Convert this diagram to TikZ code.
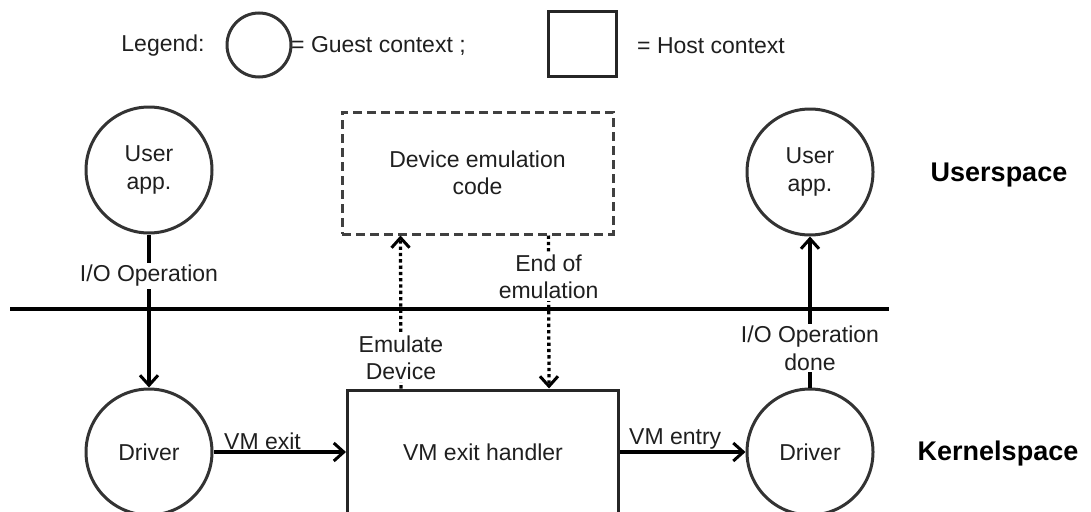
\documentclass[tikz,border=0pt]{standalone}
\usepackage{fontspec}
\setmainfont{Liberation Sans}
\usetikzlibrary{arrows.meta}
\begin{document}
\begin{tikzpicture}[x=1pt,y=-1pt,
  every node/.style={font=\fontsize{23}{27.5}\selectfont, text=black!88, align=center},
  guest/.style={circle, draw=black!80, line width=3pt, minimum size=126pt, inner sep=0pt},
  host/.style={rectangle, draw=black!85, line width=3pt, inner sep=0pt},
  hostcode/.style={host, draw=black!75, dash pattern=on 9pt off 5pt},
  tip/.style={-{Straight Barb[length=10pt,width=18pt,line width=3pt]}},
  flow/.style={line width=3.3pt, tip},
  emu/.style={line width=3.3pt, dash pattern=on 3.3pt off 3pt, tip},
  lbl/.style={fill=white, inner sep=2pt},
  edgelbl/.style={above, inner sep=1pt},
  title/.style={font=\fontsize{27}{32}\selectfont\bfseries, text=black}
]
\useasboundingbox (0,0) rectangle (1091,511);
\clip (0,0) rectangle (1091,511);

% legend
\node (legend) at (163,46) {Legend:};
\node[guest, minimum size=64pt] (lcirc) at (259,45) {};
\node[anchor=west, inner sep=0pt] (lguest) at (291,46) {= Guest context ;};
\node[host, minimum width=68pt, minimum height=64pt] (lsq) at (582,44) {};
\node[anchor=west, inner sep=0pt] (lhost) at (637,46) {= Host context};

% user / kernel separator
\coordinate (sepL) at (10,309);
\coordinate (sepR) at (889,309);
\draw[line width=3.3pt] (sepL) -- (sepR);

% nodes
\node[guest] (app1) at (149,170) {User\\app.};
\node[guest] (drv1) at (149,452) {Driver};
\node[guest] (app2) at (810,172) {User\\app.};
\node[guest] (drv2) at (810,452) {Driver};
\node[host, minimum width=271pt, minimum height=124pt] (vmx) at (483,452) {VM exit handler};
\node[hostcode, minimum width=271pt, minimum height=122pt] (dev) at (477.5,173) {Device emulation\\code};

\node[title] (user) at (999,175) {Userspace};
\node[title] (kern) at (998,454) {Kernelspace};

% connectors
\draw[flow] (app1) -- node[lbl, pos=0.27] {I/O Operation} (drv1);
\draw[flow] (drv1) -- node[edgelbl, pos=0.37] {VM exit} (vmx);
\draw[flow] (vmx) -- node[edgelbl, pos=0.44] {VM entry} (drv2);
\draw[flow] (drv2) -- node[lbl, pos=0.26] {I/O Operation\\done} (app2);
\draw[emu] ([xshift=55pt]vmx.north west) -- node[lbl, pos=0.2] {Emulate\\Device} ([xshift=60pt]dev.south west);
\draw[emu] ([xshift=208pt]dev.south west) -- node[lbl, pos=0.27] {End of\\emulation} ([xshift=203pt]vmx.north west);
\end{tikzpicture}
\end{document}
